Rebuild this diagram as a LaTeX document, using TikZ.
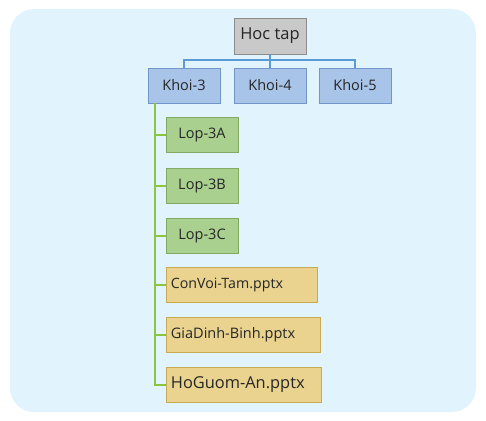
\documentclass[tikz,border=0pt]{standalone}
\usepackage{fontspec}
\setmainfont{Open Sans}
\definecolor{bgc}{HTML}{E1F4FD}
\definecolor{grayfill}{HTML}{C9C9C9}
\definecolor{grayline}{HTML}{8C8C8C}
\definecolor{bluefill}{HTML}{A8C4E8}
\definecolor{blueline}{HTML}{7396C8}
\definecolor{bluecon}{HTML}{5B9BD5}
\definecolor{greenfill}{HTML}{A9D08E}
\definecolor{greenline}{HTML}{82AA62}
\definecolor{greencon}{HTML}{8CC63F}
\definecolor{yelfill}{HTML}{E9D38F}
\definecolor{yelline}{HTML}{C8AA55}
\definecolor{txt}{HTML}{262626}
\begin{document}
\begin{tikzpicture}[x=1pt,y=-1pt,
  box/.style={draw, line width=0.8pt, minimum height=35pt, inner sep=0pt, text=txt, font=\fontsize{14.5}{16}\selectfont},
  rootbox/.style={box, fill=grayfill, draw=grayline, minimum width=72pt, minimum height=36pt, font=\fontsize{16.5}{18}\selectfont},
  khoibox/.style={box, fill=bluefill, draw=blueline, minimum width=72pt},
  lopbox/.style={box, fill=greenfill, draw=greenline, minimum width=72pt},
  filebox/.style={box, fill=yelfill, draw=yelline, anchor=west, text width=#1, align=left, inner xsep=4.5pt},
  bcon/.style={draw=bluecon, line width=1.2pt},
  gcon/.style={draw=greencon, line width=1.6pt}]
\useasboundingbox (0,0) rectangle (486,420);
\fill[bgc, rounded corners=24pt] (10,9) rectangle (476,412);
\node[rootbox] (root) at (270,36) {Hoc tap};
\node[khoibox] (k3) at (184,85.5) {Khoi-3};
\node[khoibox] (k4) at (270,85.5) {Khoi-4};
\node[khoibox] (k5) at (355,85.5) {Khoi-5};
\node[lopbox] (l3a) at (202,135) {Lop-3A};
\node[lopbox] (l3b) at (202,186) {Lop-3B};
\node[lopbox] (l3c) at (202,236) {Lop-3C};
\node[filebox=142pt, font=\fontsize{14.2}{16}\selectfont] (f1) at (166,285) {ConVoi-Tam.pptx};
\node[filebox=145pt, font=\fontsize{14.5}{16}\selectfont] (f2) at (166,335) {GiaDinh-Binh.pptx};
\node[filebox=146pt, font=\fontsize{16.4}{18}\selectfont] (f3) at (166,385) {HoGuom-An.pptx};
\coordinate (bus) at (270,60);
\draw[bcon] (root.south) -- (bus);
\draw[bcon] (k3.north) |- (bus) -| (k5.north);
\draw[bcon] (bus) -- (k4.north);
\coordinate (gtop) at ([xshift=-29pt]k3.south);
\draw[gcon] (gtop) |- (f3.west);
\foreach \n in {l3a,l3b,l3c,f1,f2}
  \draw[gcon] (gtop |- \n.west) -- (\n.west);
\end{tikzpicture}
\end{document}
